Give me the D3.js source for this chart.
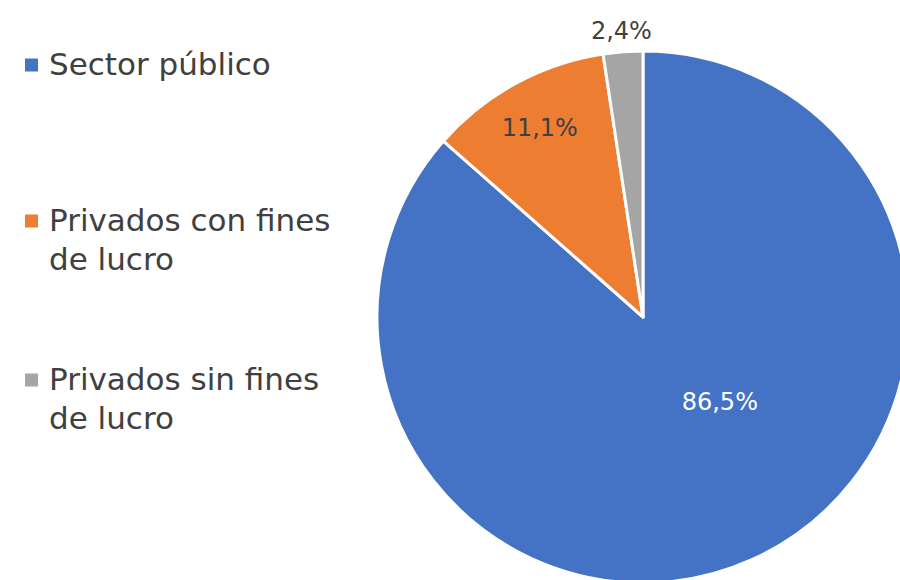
<!DOCTYPE html>
<html>
<head>
<meta charset="utf-8">
<script src="https://cdn.jsdelivr.net/npm/d3@7"></script>
<style>
  body { margin: 0; background: #fff; }
  svg { display: block; font-family: "DejaVu Sans", sans-serif; }
</style>
</head>
<body>
<div id="chart-area"></div>
<script>
const width = 900, height = 580;

// Data
const categories = ["Sector público", "Privados con fines de lucro", "Privados sin fines de lucro"];
const legendLines = [["Sector público"], ["Privados con fines", "de lucro"], ["Privados sin fines", "de lucro"]];
const values = [86.5, 11.1, 2.4];
const labels = ["86,5%", "11,1%", "2,4%"];

const colors = ["#4472C4", "#ED7D31", "#A5A5A5"];
const textColor = "#404040";

const svg = d3.select("#chart-area").append("svg")
  .attr("width", width)
  .attr("height", height);

const cx = 643, cy = 317, radius = 266;

const pie = d3.pie().sort(null).value(d => d)(values);
const arc = d3.arc().innerRadius(0).outerRadius(radius);

const g = svg.append("g")
  .attr("transform", "translate(" + cx + "," + cy + ")");

g.selectAll("path.slice")
  .data(pie)
  .enter().append("path")
  .attr("class", "slice")
  .attr("d", arc)
  .attr("fill", (d, i) => colors[i])
  .attr("stroke", "#fff")
  .attr("stroke-width", 3)
  .attr("stroke-linejoin", "round");

// Label placement (polar, relative to pie): radius factor and angle
const labelPos = [
  {r: 0.43, angle: d => 137.8 * Math.PI / 180},
  {r: 0.81, angle: d => (d.startAngle + d.endAngle) / 2},
  {r: 1.08, angle: d => (d.startAngle + d.endAngle) / 2}
];
const labelFill = ["#fff", textColor, textColor];

g.selectAll("text.lbl")
  .data(pie)
  .enter().append("text")
  .attr("class", "lbl")
  .attr("x", (d, i) => radius * labelPos[i].r * Math.sin(labelPos[i].angle(d)))
  .attr("y", (d, i) => -radius * labelPos[i].r * Math.cos(labelPos[i].angle(d)))
  .attr("dy", "0.35em")
  .attr("text-anchor", "middle")
  .attr("fill", (d, i) => labelFill[i])
  .style("font-size", "24px")
  .text((d, i) => labels[i]);

// Legend
const legendY = [65, 221, 380];
const legend = svg.append("g").attr("class", "legend");

const items = legend.selectAll("g")
  .data(categories)
  .enter().append("g")
  .attr("transform", (d, i) => "translate(25," + legendY[i] + ")");

items.append("rect")
  .attr("x", 0)
  .attr("y", -6.5)
  .attr("width", 13)
  .attr("height", 13)
  .attr("fill", (d, i) => colors[i]);

items.each(function (d, i) {
  const t = d3.select(this).append("text")
    .attr("x", 24)
    .attr("y", 10)
    .attr("fill", textColor)
    .style("font-size", "31px");
  legendLines[i].forEach((line, j) => {
    t.append("tspan")
      .attr("x", 24)
      .attr("dy", j === 0 ? 0 : 39)
      .text(line);
  });
});
</script>
</body>
</html>
